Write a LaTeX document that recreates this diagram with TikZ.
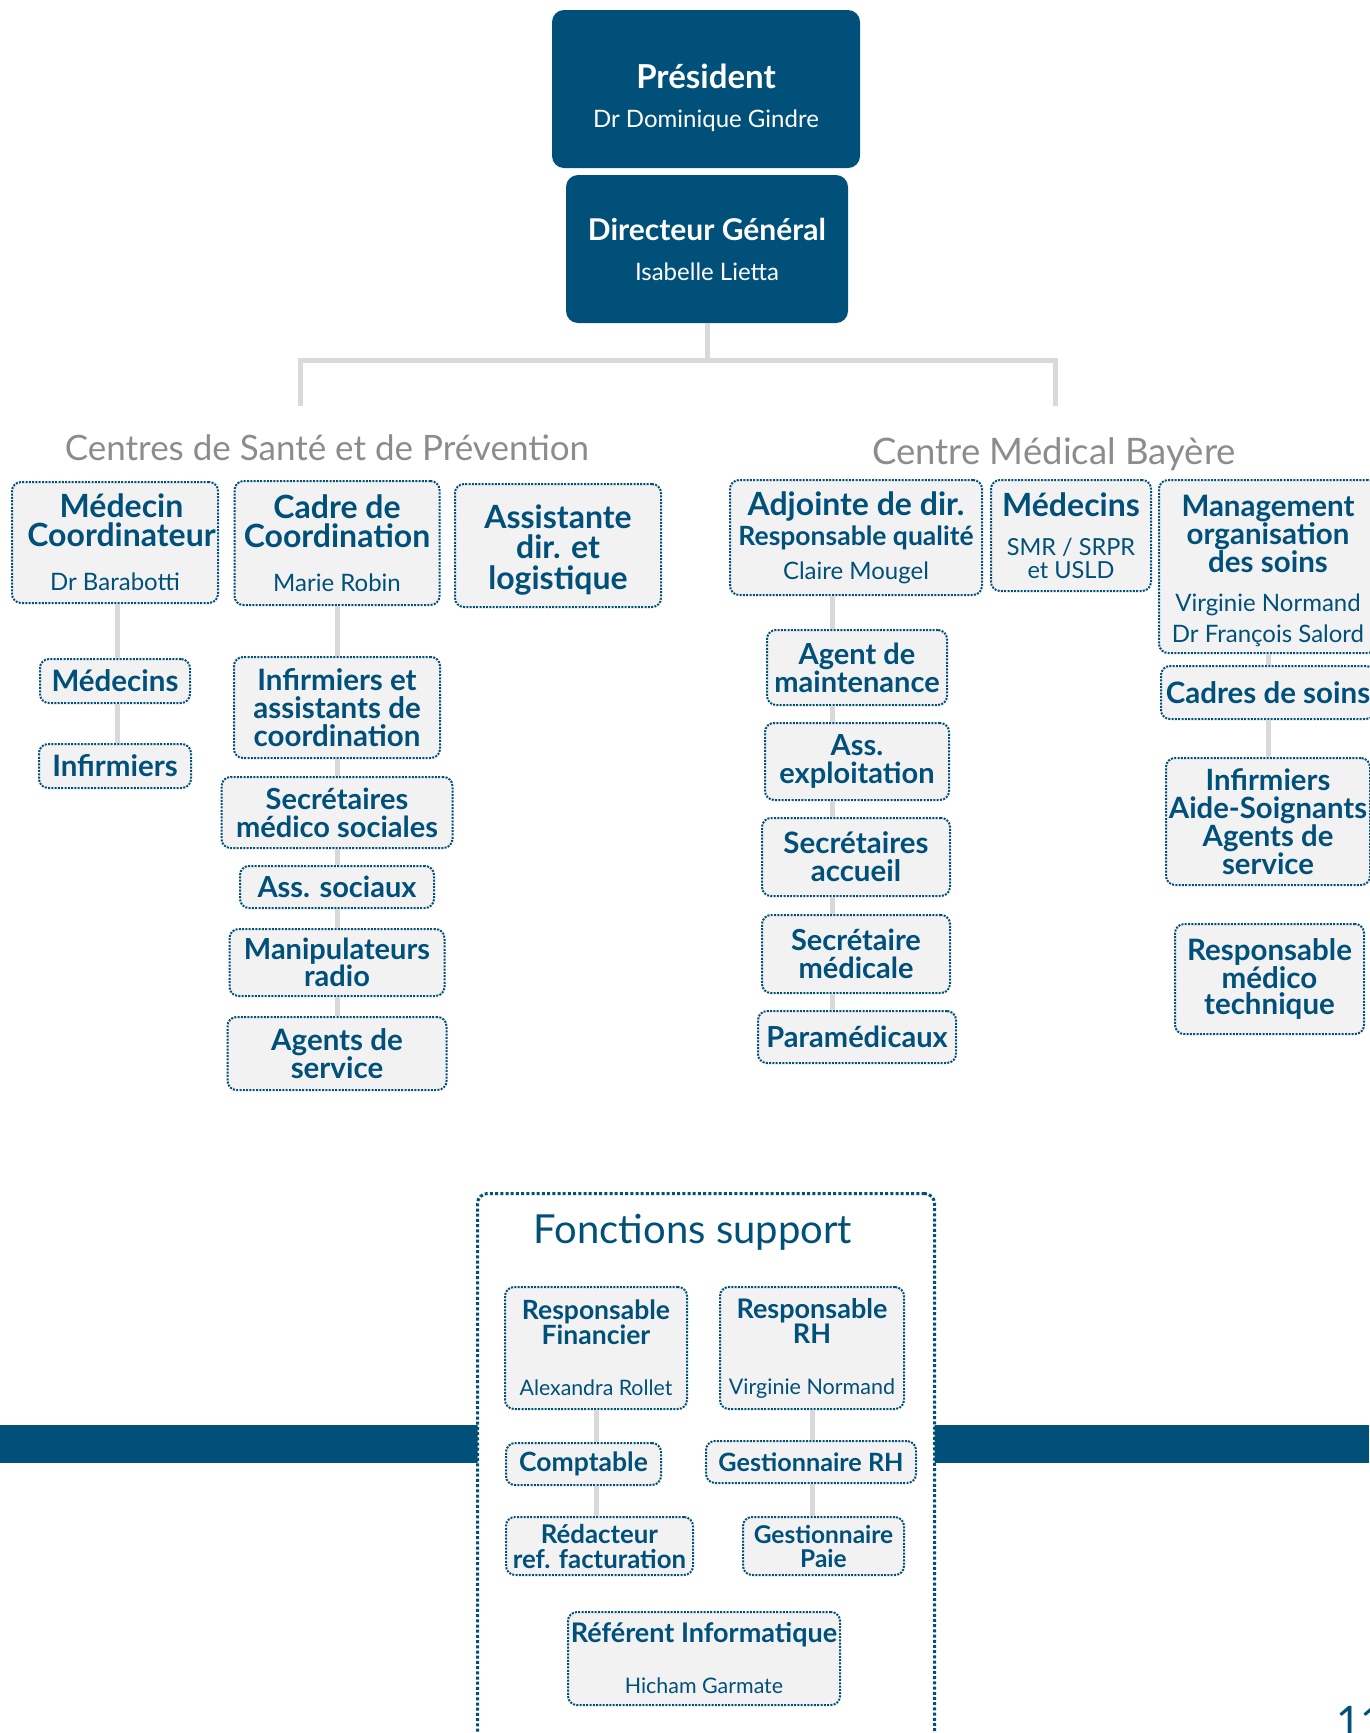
\documentclass[tikz,border=0pt]{standalone}
\usepackage{fontspec}
\setmainfont{Lato}
\definecolor{navy}{HTML}{00507A}
\definecolor{boxfill}{HTML}{F2F2F2}
\definecolor{linegray}{HTML}{D9D9D9}
\definecolor{titlegray}{HTML}{8C8C8C}
\newcommand\nmsz[2]{{\mdseries\fontsize{#1}{#1}\selectfont #2}}
\newcommand\bsz[2]{{\fontsize{#1}{#1}\selectfont #2}}
\begin{document}
\begin{tikzpicture}[x=1pt,y=-1pt,
  topbox/.style={fill=navy, rounded corners=12pt, text=white, align=center, inner sep=0pt,
    font=\bfseries\fontsize{30}{30}\selectfont},
  box/.style={draw=navy, line width=2pt, dash pattern=on 2pt off 1.3pt, fill=boxfill,
    rounded corners=9pt, text=navy, align=center, inner sep=0pt,
    font=\bfseries\fontsize{29}{28}\selectfont},
  bigbox/.style={box, font=\bfseries\fontsize{32}{29}\selectfont},
  sbox/.style={box, font=\bfseries\fontsize{26}{25}\selectfont},
  conn/.style={draw=linegray, line width=5pt},
  grouptitle/.style={text=titlegray, anchor=base, inner sep=0pt, font=\fontsize{35}{35}\selectfont},
  supportbox/.style={draw=navy, line width=3pt, dash pattern=on 3pt off 2.2pt, fill=white,
    rounded corners=10pt, inner sep=0pt}
]
\useasboundingbox (0,0) rectangle (1369,1733);

% --- band and support container
\fill[navy] (0,1425) rectangle (1369,1463);
\node[supportbox, minimum width=457, minimum height=580, anchor=north west] (support) at (476,1192) {};
\node[anchor=base, inner sep=0pt, text=navy, font=\fontsize{40}{40}\selectfont] (suptitle) at (693,1243) {Fonctions support};

% --- top
\node[topbox, minimum width=308, minimum height=158, font=\bfseries\fontsize{33}{32}\selectfont] (pres) at (706,89)
  {\rule{0pt}{43pt}Président\\[7pt]\nmsz{24}{Dr Dominique Gindre}};
\node[topbox, minimum width=282, minimum height=148] (dir) at (707,249)
  {Directeur Général\\[10pt]\nmsz{24}{Isabelle Lietta}};

\coordinate (hl) at (300,360);
\coordinate (hr) at (1055,360);
\coordinate (jl) at (300,406);
\coordinate (jr) at (1055,406);

\node[grouptitle] (tleft) at (327,460) {Centres de Santé et de Prévention};
\node[grouptitle, font=\fontsize{36.5}{36.5}\selectfont] (tright) at (1054,464) {Centre Médical Bayère};

% --- left group
\node[bigbox, minimum width=206, minimum height=121] (medc) at (115,542.5)
  {\hspace*{13pt}Médecin\\\hspace*{13pt}Coordinateur\\[15pt]\nmsz{24}{Dr Barabotti}};
\node[bigbox, minimum width=205, minimum height=124] (cadre) at (337,543)
  {Cadre de\\Coordination\\[15pt]\nmsz{24}{Marie Robin}};
\node[bigbox, minimum width=206, minimum height=123, font=\bfseries\fontsize{32}{30.5}\selectfont] (assist) at (558,545.5)
  {\rule{0pt}{32pt}Assistante\\dir. et\\logistique};
\node[box, minimum width=150, minimum height=44, font=\bfseries\fontsize{29.5}{28}\selectfont] (medecins) at (115,681) {Médecins};
\node[box, minimum width=152, minimum height=44, font=\bfseries\fontsize{29.5}{28}\selectfont] (infirm) at (115,766) {Infirmiers};
\node[box, minimum width=206, minimum height=101, font=\bfseries\fontsize{29.5}{28}\selectfont] (infet) at (337,707.5)
  {Infirmiers et\\assistants de\\coordination};
\node[box, minimum width=231, minimum height=71] (secms) at (337,812.5)
  {Secrétaires\\médico sociales};
\node[box, minimum width=194, minimum height=42] (asssoc) at (337,887) {Ass. sociaux};
\node[box, minimum width=215, minimum height=67, font=\bfseries\fontsize{29}{26}\selectfont] (manip) at (337,962.5)
  {Manipulateurs\\radio};
\node[box, minimum width=219, minimum height=73, font=\bfseries\fontsize{29.5}{26}\selectfont] (agents) at (337,1053.5)
  {Agents de\\service};

% --- right group
\node[box, minimum width=252, minimum height=115, font=\bfseries\fontsize{32}{29}\selectfont] (adj) at (856,537.5)
  {Adjointe de dir.\\[1pt]\bsz{26.5}{Responsable qualité}\\[5pt]\nmsz{24}{Claire Mougel}};
\node[box, minimum width=160, minimum height=111, font=\bfseries\fontsize{32}{29}\selectfont] (medsmr) at (1071,535.5)
  {Médecins\\[10pt]\nmsz{23.5}{SMR / SRPR}\\[-6pt]\nmsz{23.5}{et USLD}};
\node[box, minimum width=218, minimum height=173, font=\bfseries\fontsize{29.5}{25.5}\selectfont] (mgmt) at (1268,566.5)
  {\rule{0pt}{30pt}Management\\organisation\\des soins\\[13pt]\nmsz{24}{Virginie Normand}\\[6pt]\nmsz{24}{Dr François Salord}};
\node[box, minimum width=214, minimum height=53, font=\bfseries\fontsize{29.5}{28}\selectfont] (cadres) at (1268,692.5) {Cadres de soins};
\node[box, minimum width=204, minimum height=127, font=\bfseries\fontsize{29.3}{28}\selectfont] (infas) at (1268,821.5)
  {Infirmiers\\Aide-Soignants\\Agents de\\service};
\node[box, minimum width=189, minimum height=110, font=\bfseries\fontsize{29.5}{26.5}\selectfont] (rmt) at (1269.5,979)
  {Responsable\\médico\\technique};
\node[box, minimum width=180, minimum height=75] (agmaint) at (857,667.5) {Agent de\\maintenance};
\node[box, minimum width=184, minimum height=77] (assexp) at (857,761.5) {Ass.\\exploitation};
\node[box, minimum width=188, minimum height=78, font=\bfseries\fontsize{29.5}{28}\selectfont] (secacc) at (856,857) {Secrétaires\\accueil};
\node[box, minimum width=188, minimum height=78] (secmed) at (856,954) {Secrétaire\\médicale};
\node[box, minimum width=198, minimum height=52] (param) at (857,1037) {Paramédicaux};

% --- support functions
\node[sbox, minimum width=182, minimum height=122, font=\bfseries\fontsize{26.5}{25}\selectfont] (rf) at (596,1348)
  {Responsable\\Financier\\[26pt]\nmsz{21.3}{Alexandra Rollet}};
\node[sbox, minimum width=184, minimum height=122, font=\bfseries\fontsize{27}{25}\selectfont] (rrh) at (812,1348)
  {Responsable\\RH\\[26pt]\nmsz{21.5}{Virginie Normand}};
\node[sbox, minimum width=155, minimum height=42, font=\bfseries\fontsize{26.5}{25}\selectfont] (compt) at (583.5,1464) {Comptable};
\node[sbox, minimum width=210, minimum height=42, font=\bfseries\fontsize{25.2}{25}\selectfont] (grh) at (811,1462) {Gestionnaire RH};
\node[sbox, minimum width=187, minimum height=58, font=\bfseries\fontsize{25.8}{25}\selectfont] (redac) at (599.5,1546) {Rédacteur\\ref. facturation};
\node[sbox, minimum width=161, minimum height=58, font=\bfseries\fontsize{24.5}{24}\selectfont] (gpaie) at (823.5,1546) {Gestionnaire\\Paie};
\node[sbox, minimum width=272, minimum height=93, font=\bfseries\fontsize{27}{25}\selectfont] (refinf) at (704,1658.5)
  {Référent Informatique\\[26pt]\nmsz{21.4}{Hicham Garmate}};

% --- page number (cut by the page edge, as in the original)
\node[anchor=base west, inner sep=0pt, text=navy, font=\fontsize{42}{42}\selectfont] (pagenum) at (1336,1736) {11};

% --- connectors
\draw[conn] (dir.south) -- (dir.south |- hl);
\draw[conn] (jl) -- (hl) -- (hr) -- (jr);

\coordinate (c1) at (117,0);
\coordinate (c2) at (337,0);
\coordinate (c3) at (832,0);
\coordinate (c4) at (1268,0);
\coordinate (c5) at (596,0);
\coordinate (c6) at (812,0);

\draw[conn] (c1 |- medc.south) -- (c1 |- medecins.north);
\draw[conn] (c1 |- medecins.south) -- (c1 |- infirm.north);

\draw[conn] (c2 |- cadre.south) -- (c2 |- infet.north);
\draw[conn] (c2 |- infet.south) -- (c2 |- secms.north);
\draw[conn] (c2 |- secms.south) -- (c2 |- asssoc.north);
\draw[conn] (c2 |- asssoc.south) -- (c2 |- manip.north);
\draw[conn] (c2 |- manip.south) -- (c2 |- agents.north);

\draw[conn] (c3 |- adj.south) -- (c3 |- agmaint.north);
\draw[conn] (c3 |- agmaint.south) -- (c3 |- assexp.north);
\draw[conn] (c3 |- assexp.south) -- (c3 |- secacc.north);
\draw[conn] (c3 |- secacc.south) -- (c3 |- secmed.north);
\draw[conn] (c3 |- secmed.south) -- (c3 |- param.north);

\draw[conn] (c4 |- mgmt.south) -- (c4 |- cadres.north);
\draw[conn] (c4 |- cadres.south) -- (c4 |- infas.north);

\draw[conn] (c5 |- rf.south) -- (c5 |- compt.north);
\draw[conn] (c5 |- compt.south) -- (c5 |- redac.north);
\draw[conn] (c6 |- rrh.south) -- (c6 |- grh.north);
\draw[conn] (c6 |- grh.south) -- (c6 |- gpaie.north);
\end{tikzpicture}
\end{document}
